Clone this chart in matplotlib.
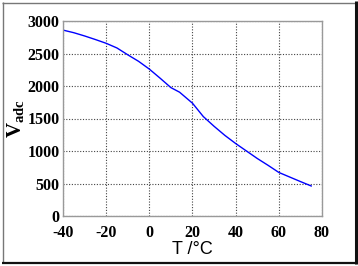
import matplotlib
matplotlib.use("Agg")
import matplotlib.pyplot as plt
from matplotlib.lines import Line2D

temps = [-40, -35, -30, -25, -20, -15, -10, -5, 0, 5, 10, 14, 17, 20, 25, 30, 35, 40, 45, 50, 55, 60, 65, 70, 75]
vadc = [2860, 2820, 2770, 2715, 2657, 2585, 2480, 2380, 2260, 2120, 1975, 1905, 1820, 1735, 1530, 1380, 1240, 1115, 1000, 885, 780, 670, 600, 530, 462]
xticks = [-40, -20, 0, 20, 40, 60, 80]
yticks = [0, 500, 1000, 1500, 2000, 2500, 3000]

plt.rcParams['font.family'] = ['Liberation Serif']
plt.rcParams['font.weight'] = 'bold'
plt.rcParams['axes.unicode_minus'] = False
plt.rcParams['mathtext.fontset'] = 'custom'
plt.rcParams['mathtext.bf'] = 'Liberation Serif:bold'
plt.rcParams['mathtext.rm'] = 'Liberation Serif:bold'

W, H = 358, 266
fig = plt.figure(figsize=(W / 100, H / 100), dpi=100)
ax = fig.add_axes([63 / W, 1 - 216 / H, (322 - 63) / W, (216 - 21) / H])

ax.plot(temps, vadc, color='#0000ff', linewidth=1.0)
ax.set_xlim(-40, 80)
ax.set_ylim(0, 3000)
ax.set_xticks(xticks)
ax.set_yticks(yticks)
ax.grid(True, linestyle=(0, (1, 1.5)), color='#444444', linewidth=0.8)
for s in ax.spines.values():
    s.set_color('#999999')
    s.set_linewidth(1.0)
ax.tick_params(direction='in', length=0, colors='#999999', labelcolor='black', labelsize=11.5)
ax.tick_params(axis='x', pad=6.5)
ax.tick_params(axis='y', pad=2.5)

ax.set_xlabel('T /°C', fontfamily='Liberation Sans', fontweight='normal', fontsize=13, labelpad=0)
ax.set_ylabel(r'$\mathbf{V}_{\mathbf{adc}}$', fontsize=15)
ax.yaxis.set_label_coords(-0.14, 0.5)

# figure frame
def px(x, y):
    return x / W, 1 - y / H

def seg(x0, y0, x1, y1, color, lw):
    a = px(x0, y0)
    b = px(x1, y1)
    fig.add_artist(Line2D([a[0], b[0]], [a[1], b[1]], transform=fig.transFigure,
                          color=color, linewidth=lw, solid_capstyle='butt'))

seg(2.5, 2, 2.5, 263, '#777777', 1.0)
seg(2, 2.5, 355, 2.5, '#777777', 1.0)
seg(356, 1, 356, 264, '#111111', 2.2)
seg(2, 262.5, 357, 262.5, '#111111', 1.6)

fig.savefig('out.png', dpi=100)
